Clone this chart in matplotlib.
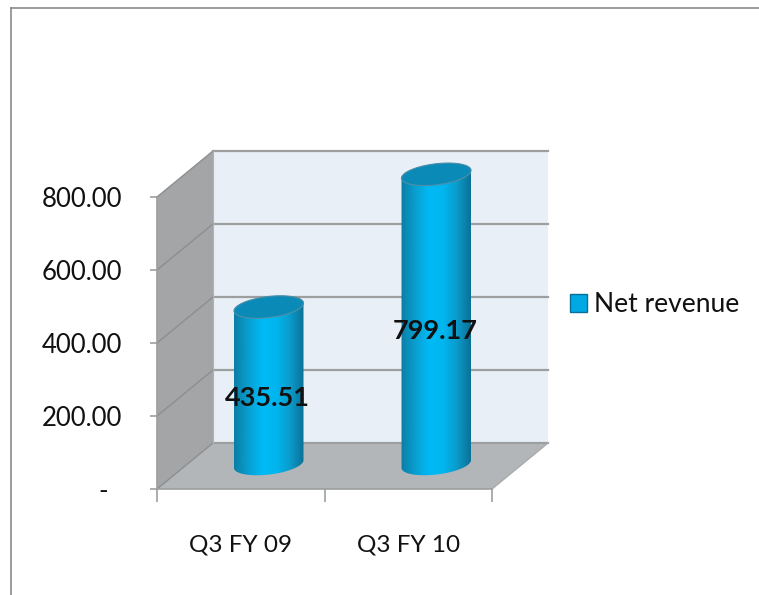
import numpy as np
import matplotlib
matplotlib.use('Agg')
import matplotlib.pyplot as plt
from matplotlib.colors import LinearSegmentedColormap
from matplotlib.lines import Line2D
from matplotlib.patches import Patch, Polygon

categories = ['Q3 FY 09', 'Q3 FY 10']
net_revenue = [435.51, 799.17]
y_ticks = [0, 200, 400, 600, 800]
y_tick_labels = ['-  ', '200.00', '400.00', '600.00', '800.00']
series_name = 'Net revenue'

plt.rcParams['font.family'] = ['Lato', 'DejaVu Sans']

fig = plt.figure(figsize=(7.59, 5.95), dpi=100)
ax = fig.add_axes([157 / 759, 1 - 489 / 595, 335 / 759, 292 / 595])

# size of one pixel in data units, depth of the fake 3d box
px_x = 2 / 335
px_y = 800 / 292
dx = 56 * px_x
dy = 46 * px_y

grey = '#9c9e9f'
# walls
ax.add_patch(Polygon([(dx, dy), (2 + dx, dy), (2 + dx, 800 + dy), (dx, 800 + dy)],
                     fc='#e8eff6', ec='none', zorder=1, clip_on=False))
ax.add_patch(Polygon([(0, 0), (dx, dy), (dx, 800 + dy), (0, 800)],
                     fc='#a3a5a6', ec='none', zorder=1, clip_on=False))
ax.add_patch(Polygon([(0, 0), (2, 0), (2 + dx, dy), (dx, dy)],
                     fc='#b3b6b9', ec='none', zorder=1, clip_on=False))
for t in y_ticks:
    ax.plot([dx, 2 + dx], [t + dy, t + dy], color=grey, lw=1.6, zorder=2, clip_on=False)
    ax.plot([0, dx], [t, t + dy], color='#8c8e8f', lw=1.0, zorder=2, clip_on=False)
ax.plot([dx, dx], [dy, 800 + dy], color='#b0b2b4', lw=0.8, zorder=2, clip_on=False)
ax.plot([2, 2 + dx], [0, dy], color='#a8aaac', lw=1.0, zorder=2, clip_on=False)

# cylinders
cmap = LinearSegmentedColormap.from_list('cyl', ['#0a7ea6', '#0a9ed0', '#00baf5',
                                                 '#00b6f0', '#0a9ccc', '#0a7196'])
grad = np.linspace(0, 1, 128).reshape(1, -1)
a, b = 35, 10.5
tilt = np.radians(7)


def ellipse(cx, cy, t):
    ox = a * np.cos(t) * np.cos(tilt) - b * np.sin(t) * np.sin(tilt)
    oy = a * np.cos(t) * np.sin(tilt) + b * np.sin(t) * np.cos(tilt)
    return cx + ox * px_x, cy + oy * px_y


for i, val in enumerate(net_revenue):
    cx = i + 0.5 + dx / 2
    y0 = dy / 2 + 2 * px_y
    y1 = val + dy / 2
    bx, by = ellipse(cx, y0, np.linspace(np.pi, 2 * np.pi, 60))
    tx, ty = ellipse(cx, y1, np.linspace(0, np.pi, 60))
    body = Polygon(np.column_stack([np.r_[bx, tx], np.r_[by, ty]]), fc='none', ec='none',
                   zorder=3, clip_on=False)
    ax.add_patch(body)
    im = ax.imshow(grad, cmap=cmap, aspect='auto', zorder=3,
                   extent=[cx - a * px_x, cx + a * px_x, y0 - 40, y1 + 40])
    # images get cut at the axes box otherwise
    im.set_clip_box(fig.bbox)
    im.set_clip_path(body)
    ex, ey = ellipse(cx, y1, np.linspace(0, 2 * np.pi, 120))
    ax.add_patch(Polygon(np.column_stack([ex, ey]), fc='#0a8ab6', ec='#4f8fa8', lw=0.8,
                         zorder=4, clip_on=False))
    ax.annotate(f'{val:.2f}', (cx, val / 2 + dy / 2), xytext=(-1, -8), textcoords='offset points',
                ha='center', va='center', fontsize=19.5, fontweight='bold', color='#111111', zorder=5)

ax.set_xlim(0, 2)
ax.set_ylim(0, 800)
ax.patch.set_visible(False)
for s in ['top', 'right']:
    ax.spines[s].set_visible(False)
for s in ['left', 'bottom']:
    ax.spines[s].set_color(grey)
    ax.spines[s].set_linewidth(1.2)
    ax.spines[s].set_zorder(2)

ax.set_yticks(y_ticks)
ax.set_yticklabels(y_tick_labels, va='center_baseline')
ax.set_xticks([0, 1, 2])
ax.set_xticklabels([])
ax.set_xticks([0.5, 1.5], minor=True)
ax.set_xticklabels(categories, minor=True)
ax.tick_params(axis='y', length=5, color=grey, width=1.2, pad=20, labelsize=18.5, labelcolor='#111111')
ax.tick_params(axis='x', which='major', length=9, color=grey, width=1.2)
ax.tick_params(axis='x', which='minor', length=0, pad=33, labelsize=17.5, labelcolor='#111111')

fig.legend(handles=[Patch(fc='#00a8e4', ec='#0a6f94', label=series_name)], frameon=False,
           loc='center left', bbox_to_anchor=(546 / 759, 1 - 305 / 595), fontsize=19,
           handlelength=0.65, handleheight=0.65, handletextpad=0.25, labelcolor='#111111')

# chart frame
fig.add_artist(Line2D([11 / 759, 11 / 759], [0, 1 - 8 / 595], color='#8a8a8a', lw=1.2))
fig.add_artist(Line2D([11 / 759, 1], [1 - 8 / 595, 1 - 8 / 595], color='#8a8a8a', lw=1.2))

fig.savefig('out.png', dpi=100)
